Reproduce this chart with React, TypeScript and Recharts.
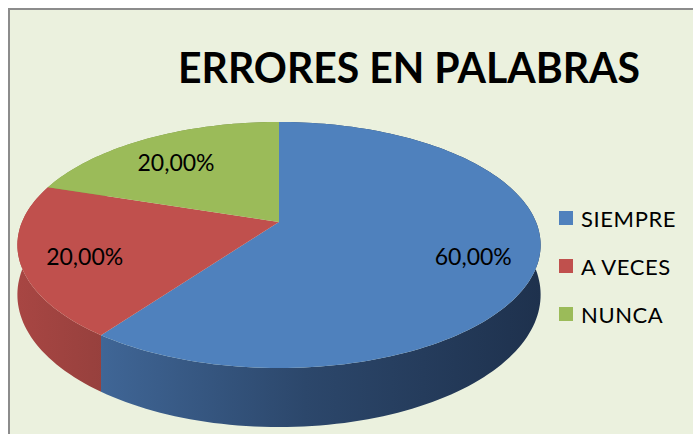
import { Legend, Pie, PieChart } from 'recharts'

const categories = ['SIEMPRE', 'A VECES', 'NUNCA']
const values = [60, 20, 20]
const topColors = ['#4F81BD', '#C0504D', '#9BBB59']
// side wall shading, left (lit) to right (shadow)
const sideColors = [
  ['#4A77AE', '#3F6595', '#2C476B', '#1E314D'],
  ['#A84643', '#96403D', '#7E3532', '#6A2C2A'],
  ['#8AA84F', '#7C9746', '#62783A', '#4F612F'],
]
const sideStops = [0, 0.17, 0.55, 1]

const data = categories.map((name, i) => ({ name, value: values[i], fill: topColors[i], idx: i }))

const W = 683
const H = 424
const CX = 269
const CY = 212
const R = 257
const TILT = 0.462
const PERSP = 0.187
const DEPTH = 48
const RAD = Math.PI / 180

// tilted disc with a bit of perspective: far side smaller than near side
function project(cx: number, cy: number, r: number, f: number, angle: number, drop = 0) {
  const u = Math.cos(angle * RAD)
  const v = Math.sin(angle * RAD)
  const s = 1 + PERSP * f * v
  return [cx + (r * f * u) / s, cy - (r * TILT * f * v) / s + drop / s]
}

function arc(cx: number, cy: number, r: number, a0: number, a1: number, drop = 0) {
  const n = Math.max(2, Math.ceil(Math.abs(a1 - a0) / 1.5))
  const pts: number[][] = []
  for (let k = 0; k <= n; k++) pts.push(project(cx, cy, r, 1, a0 + ((a1 - a0) * k) / n, drop))
  return pts
}

const toPath = (pts: number[][]) => pts.map((p, i) => `${i ? 'L' : 'M'}${p[0].toFixed(2)},${p[1].toFixed(2)}`).join(' ')

function SideShape(props: any) {
  const { cx, cy, outerRadius, startAngle, endAngle } = props
  const idx = props.payload?.idx ?? props.idx ?? 0
  const top = arc(cx, cy, outerRadius, startAngle, endAngle)
  const bottom = arc(cx, cy, outerRadius, startAngle, endAngle, DEPTH).reverse()
  const id = `side-${idx}`
  return (
    <g>
      <defs>
        <linearGradient id={id} gradientUnits="userSpaceOnUse" x1={cx - outerRadius * 1.02} x2={cx + outerRadius * 1.02} y1={0} y2={0}>
          {sideStops.map((o, k) => (
            <stop key={k} offset={o} stopColor={sideColors[idx][k]} />
          ))}
        </linearGradient>
      </defs>
      <path d={toPath([...top, ...bottom]) + ' Z'} fill={`url(#${id})`} stroke="none" />
    </g>
  )
}

function TopShape(props: any) {
  const { cx, cy, outerRadius, startAngle, endAngle } = props
  const idx = props.payload?.idx ?? props.idx ?? 0
  const pts = arc(cx, cy, outerRadius, startAngle, endAngle)
  return <path d={`M${cx},${cy} ` + toPath(pts).replace('M', 'L') + ' Z'} fill={topColors[idx]} stroke="none" />
}

function PctLabel(props: any) {
  const { cx, cy, outerRadius, midAngle, percent } = props
  const [x, y] = project(cx, cy, outerRadius, 0.76, midAngle)
  return (
    <text x={x} y={y + 5} textAnchor="middle" dominantBaseline="central" fontSize={23} fontFamily="Lato, sans-serif" fill="#000">
      {(percent * 100).toFixed(2).replace('.', ',') + '%'}
    </text>
  )
}

function LegendList({ payload }: any) {
  // both pies report entries; keep one per category, in data order
  const seen = new Set<string>()
  const items = (payload || [])
    .filter((e: any) => {
      if (seen.has(e.value)) return false
      seen.add(e.value)
      return true
    })
    .sort((a: any, b: any) => categories.indexOf(a.value) - categories.indexOf(b.value))
  return (
    <div style={{ fontFamily: 'Lato, sans-serif', fontSize: 22, letterSpacing: 0.6, color: '#000' }}>
      {items.map((entry: any) => (
        <div key={entry.value} style={{ height: 48, display: 'flex', alignItems: 'center' }}>
          <span style={{ width: 14, height: 14, background: topColors[categories.indexOf(entry.value)] ?? entry.color, marginRight: 8 }} />
          {entry.value}
        </div>
      ))}
    </div>
  )
}

export default function App() {
  return (
    <div
      style={{
        position: 'fixed',
        left: 8,
        top: 8,
        width: 685,
        height: 426,
        boxSizing: 'border-box',
        borderTop: '2px solid #8C8C8C',
        borderLeft: '2px solid #8C8C8C',
        background: '#EBF1DE',
      }}
    >
      <svg width={W} height={H} style={{ position: 'absolute', left: 0, top: 0 }}>
        <text x={168} y={73} fontSize={42} fontWeight="bold" fontFamily="Lato, sans-serif" textLength={462} lengthAdjust="spacingAndGlyphs" fill="#000">
          ERRORES EN PALABRAS
        </text>
      </svg>
      <div style={{ position: 'absolute', left: 0, top: 0 }}>
        <PieChart width={W} height={H} margin={{ top: 0, right: 0, bottom: 0, left: 0 }}>
          <Pie
            data={data}
            dataKey="value"
            nameKey="name"
            cx={CX}
            cy={CY}
            outerRadius={R}
            startAngle={90}
            endAngle={-270}
            stroke="none"
            legendType="none"
            shape={SideShape}
            activeShape={SideShape}
            inactiveShape={SideShape}
            isAnimationActive={false}
          />
          <Pie
            data={data}
            dataKey="value"
            nameKey="name"
            cx={CX}
            cy={CY}
            outerRadius={R}
            startAngle={90}
            endAngle={-270}
            stroke="none"
            legendType="square"
            shape={TopShape}
            activeShape={TopShape}
            inactiveShape={TopShape}
            label={PctLabel}
            labelLine={false}
            isAnimationActive={false}
          />
          <Legend
            layout="vertical"
            align="right"
            verticalAlign="middle"
            content={<LegendList />}
            wrapperStyle={{ left: 549, top: 184, width: 130 }}
          />
        </PieChart>
      </div>
    </div>
  )
}
